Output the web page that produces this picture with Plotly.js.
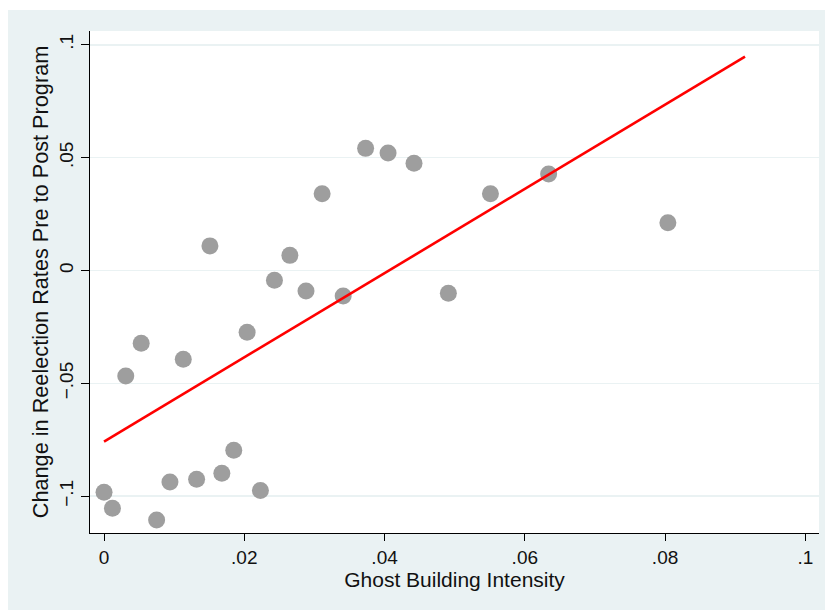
<!DOCTYPE html>
<html>
<head>
<meta charset="utf-8">
<script src="https://cdn.plot.ly/plotly-3.0.1.min.js"></script>
<style>
  html, body { margin: 0; padding: 0; background: #ffffff; }
  #chart { position: absolute; left: 8px; top: 10px; width: 817px; height: 600px; }
</style>
</head>
<body>
<div id="chart"></div>
<script>
// Scatter points: ghost building intensity vs change in reelection rates
const intensity = [0.0000, 0.0012, 0.0031, 0.0053, 0.0075, 0.0094, 0.0113, 0.0132, 0.0151, 0.0168,
                   0.0185, 0.0204, 0.0223, 0.0243, 0.0265, 0.0288, 0.0311, 0.0341, 0.0373, 0.0405,
                   0.0442, 0.0491, 0.0551, 0.0634, 0.0804];
const reelectionChange = [-0.0982, -0.1053, -0.0467, -0.0322, -0.1105, -0.0937, -0.0393, -0.0925, 0.0109, -0.0898,
                          -0.0796, -0.0274, -0.0975, -0.0043, 0.0067, -0.0091, 0.0340, -0.0113, 0.0541, 0.0520,
                          0.0475, -0.0101, 0.0340, 0.0427, 0.0212];
// Fitted line endpoints
const fitX = [0.0000, 0.0914];
const fitY = [-0.0758, 0.0947];
// Tick labels
const xTickVals = [0, 0.02, 0.04, 0.06, 0.08, 0.1];
const xTickText = ['0', '.02', '.04', '.06', '.08', '.1'];
const yTickVals = [-0.1, -0.05, 0, 0.05, 0.1];
const yTickText = ['\u2212.1', '\u2212.05', '0', '.05', '.1'];

const FONT = 'Liberation Sans, Arial, Helvetica, sans-serif';

const traces = [
  {
    type: 'scatter', mode: 'markers',
    x: intensity, y: reelectionChange,
    marker: { color: '#9e9e9e', size: 17, line: { width: 0 } },
    hoverinfo: 'x+y', showlegend: false
  },
  {
    type: 'scatter', mode: 'lines',
    x: fitX, y: fitY,
    line: { color: '#ff0000', width: 2.6 },
    hoverinfo: 'skip', showlegend: false
  }
];

const layout = {
  width: 817, height: 600,
  margin: { l: 82, r: 6, t: 21, b: 77, pad: 0 },
  paper_bgcolor: '#eaf2f3',
  plot_bgcolor: '#ffffff',
  font: { family: FONT, color: '#111111', size: 19 },
  showlegend: false,
  xaxis: {
    range: [-0.002, 0.10195],
    tickvals: xTickVals, ticktext: xTickText,
    showgrid: false, zeroline: false,
    showline: true, linecolor: '#000000', linewidth: 1,
    ticks: 'outside', ticklen: 7, tickwidth: 1, tickcolor: '#000000',
    tickfont: { family: FONT, size: 19, color: '#111111' },
    title: { text: 'Ghost Building Intensity', font: { family: FONT, size: 21, color: '#111111' }, standoff: 2 },
    automargin: false
  },
  yaxis: {
    range: [-0.1163, 0.1061],
    tickvals: yTickVals, ticktext: yTickText,
    tickangle: -90,
    showgrid: true, gridcolor: '#eaf2f3', gridwidth: 1.5,
    zeroline: false,
    showline: true, linecolor: '#000000', linewidth: 1,
    ticks: 'outside', ticklen: 8, tickwidth: 1, tickcolor: '#000000',
    tickfont: { family: FONT, size: 19, color: '#111111' },
    title: { text: 'Change in Reelection Rates Pre to Post Program', font: { family: FONT, size: 21.7, color: '#111111' }, standoff: 1 },
    automargin: false
  }
};

Plotly.newPlot('chart', traces, layout, { displayModeBar: false, staticPlot: true });
</script>
</body>
</html>
